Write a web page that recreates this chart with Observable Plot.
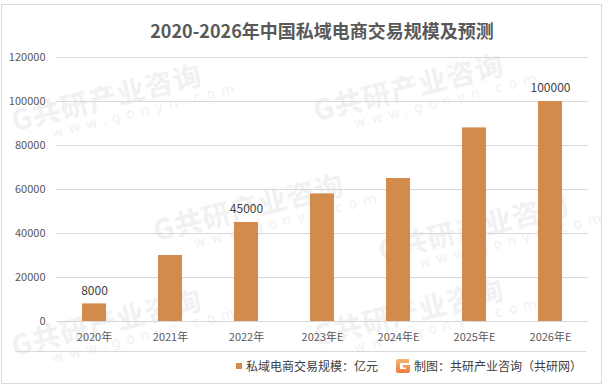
<!DOCTYPE html>
<html>
<head>
<meta charset="utf-8">
<script src="https://cdn.jsdelivr.net/npm/d3@7"></script>
<script src="https://cdn.jsdelivr.net/npm/@observablehq/plot@0.6"></script>
<style>
  html, body { margin: 0; padding: 0; background: #fff; }
  #wrap { position: relative; width: 610px; height: 392px; background: #fff; overflow: hidden;
          font-family: "Noto Sans CJK SC", "Noto Sans", sans-serif; }
  #frame { position: absolute; left: 1px; top: 4px; width: 601px; height: 380px; border: 1px solid #d9d9d9; box-sizing: border-box; }
  .wm { position: absolute; transform: rotate(-14deg); transform-origin: left top; color: #f1f1f1; white-space: nowrap; }
  .wm .a { font-size: 28px; font-weight: bold; line-height: 30px; letter-spacing: 1px; }
  .wm .b { font-size: 14px; line-height: 16px; letter-spacing: 6px; padding-left: 36px; font-family: "DejaVu Sans", sans-serif; }
  #title { position: absolute; left: 56px; width: 532px; top: 17px; text-align: center;
           font-size: 18px; font-weight: bold; color: #595959; line-height: 26px; }
  #chart { position: absolute; left: 0; top: 40px; }
  #sep { position: absolute; left: 15px; width: 571px; top: 351px; height: 1px; background: #d9d9d9; }
  #legend { position: absolute; top: 357px; left: 0; width: 610px; height: 20px; font-size: 12px; color: #404040; line-height: 18px; }
  .sw { position: absolute; left: 236px; top: 6px; width: 6px; height: 6px; background: #d38b4d; }
  .lt1 { position: absolute; left: 246px; top: 0; white-space: nowrap; }
  .logo { position: absolute; left: 396px; top: 2px; }
  .lt2 { position: absolute; left: 414px; top: 0; white-space: nowrap; }
</style>
</head>
<body>
<div id="wrap">
  <div id="frame"></div>
  <div id="wms"></div>
  <div id="title">2020-2026年中国私域电商交易规模及预测</div>
  <div id="chart"></div>
  <div id="sep"></div>
  <div id="legend">
    <div class="sw"></div>
    <div class="lt1">私域电商交易规模：亿元</div>
    <svg class="logo" width="14" height="14" viewBox="0 0 14 14">
      <defs><linearGradient id="lg" x1="0" y1="0" x2="0" y2="1">
        <stop offset="0" stop-color="#f9b673"/><stop offset="1" stop-color="#ee7d3a"/></linearGradient></defs>
      <path d="M0,2 Q0,0 2,0 H13 V4 H4 V10 H10 V8.5 H7 V6 H14 V12 Q14,14 12,14 H2 Q0,14 0,12 Z" fill="url(#lg)"/>
    </svg>
    <div class="lt2">制图：共研产业咨询（共研网）</div>
  </div>
</div>
<script>
const years = ["2020年", "2021年", "2022年", "2023年E", "2024年E", "2025年E", "2026年E"];
const values = [8000, 30000, 45000, 58000, 65000, 88000, 100000];
const labeledYears = ["2020年", "2022年", "2026年E"];
const yTicks = [0, 20000, 40000, 60000, 80000, 100000, 120000];
const watermarkText = "G共研产业咨询";
const watermarkUrl = "www.gonyn.com";

// faint background watermark tiles, kept inside the picture
const wmPos = [[8, 105], [310, 95], [150, 215], [375, 235], [8, 330], [310, 320]];
const wms = document.getElementById("wms");
for (const [l, t] of wmPos) {
  const d = document.createElement("div");
  d.className = "wm";
  d.style.left = l + "px";
  d.style.top = t + "px";
  d.innerHTML = `<div class="a">${watermarkText}</div><div class="b">${watermarkUrl}</div>`;
  wms.appendChild(d);
}

const data = years.map((year, i) => ({year, value: values[i]}));
const labeled = data.filter(d => labeledYears.includes(d.year));

const chart = Plot.plot({
  width: 610,
  height: 312,
  marginLeft: 56,
  marginRight: 22,
  marginTop: 17,
  marginBottom: 31,
  style: {fontFamily: '"Noto Sans CJK SC", "Noto Sans", sans-serif', color: "#595959", background: "transparent"},
  x: {domain: years, paddingInner: 0.68, paddingOuter: 0.34, label: null},
  y: {domain: [0, 120000], label: null},
  marks: [
    Plot.ruleY(yTicks, {stroke: "#d9d9d9", strokeWidth: 1}),
    Plot.barY(data, {x: "year", y: "value", fill: "#d38b4d"}),
    Plot.text(labeled, {x: "year", y: "value", text: d => String(d.value), dy: -13, fontSize: 12, fill: "#404040"}),
    Plot.axisY({ticks: yTicks, tickSize: 0, tickPadding: 11, fontSize: 11, tickFormat: d => String(d), label: null}),
    Plot.axisX({tickSize: 0, tickPadding: 12, fontSize: 11, label: null})
  ]
});
document.getElementById("chart").appendChild(chart);
</script>
</body>
</html>
